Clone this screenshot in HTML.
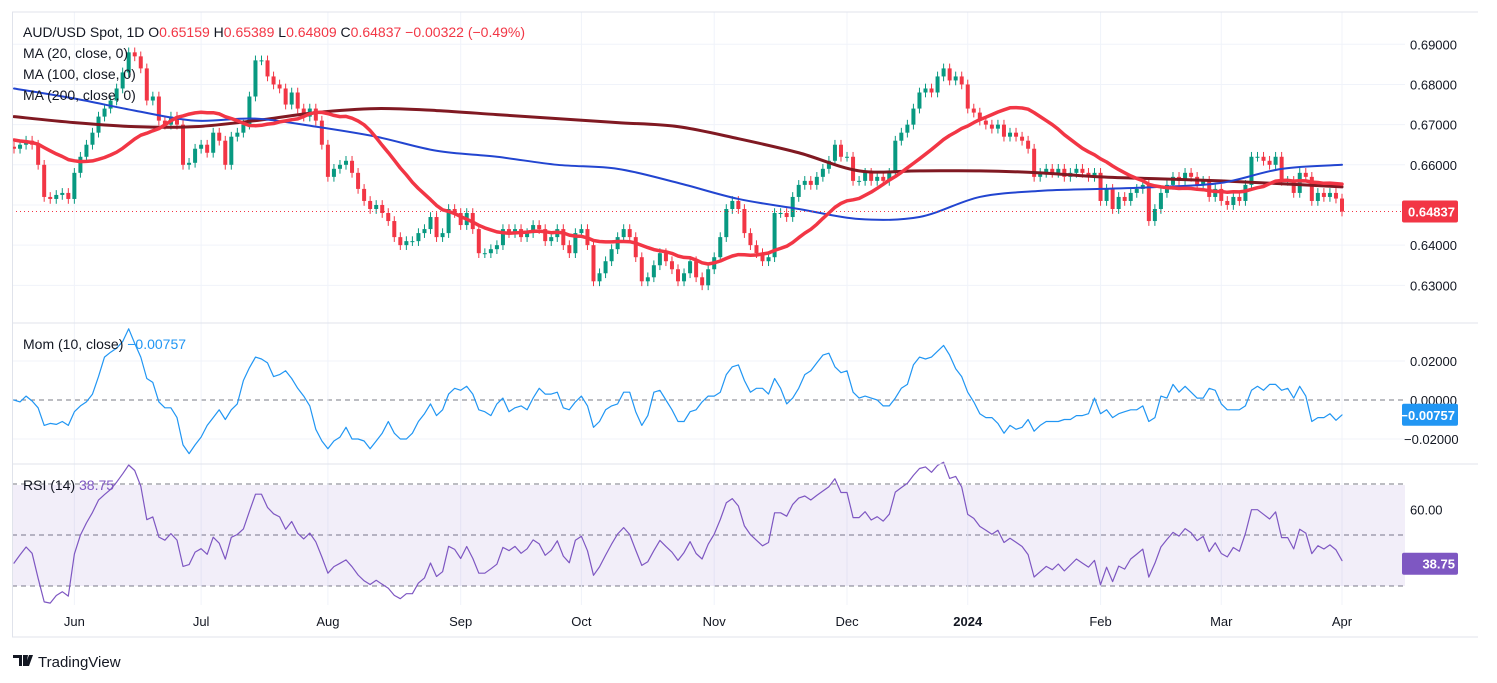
<!DOCTYPE html>
<html><head><meta charset="utf-8"><style>
html,body{margin:0;padding:0;background:#fff;}
svg{display:block;font-family:"Liberation Sans",sans-serif;}
</style></head><body>
<svg id="chart" width="1497" height="683" viewBox="0 0 1497 683">
<rect x="0" y="0" width="1497" height="683" fill="#fff"/>
<g id="grid"></g>
<rect x="12" y="485" width="1393" height="101" fill="#7e57c2" fill-opacity="0.1"/>
<g id="marks"></g>
<g id="labels"></g>
<line x1="12" y1="12" x2="1478" y2="12" stroke="#e0e3eb"/>
<line x1="12.5" y1="12" x2="12.5" y2="637" stroke="#e0e3eb"/>
<line x1="12" y1="637" x2="1478" y2="637" stroke="#e0e3eb"/>
<line x1="12" y1="323" x2="1478" y2="323" stroke="#e0e3eb"/>
<line x1="12" y1="464" x2="1478" y2="464" stroke="#e0e3eb"/>
<g font-size="14" fill="#131722">
<text x="23" y="37">AUD/USD Spot, 1D  <tspan>O</tspan><tspan fill="#f23645">0.65159</tspan>  H<tspan fill="#f23645">0.65389</tspan>  L<tspan fill="#f23645">0.64809</tspan>  C<tspan fill="#f23645">0.64837  −0.00322 (−0.49%)</tspan></text>
<text x="23" y="58">MA (20, close, 0)</text>
<text x="23" y="79">MA (100, close, 0)</text>
<text x="23" y="100">MA (200, close, 0)</text>
<text x="23" y="349">Mom (10, close) <tspan fill="#2196f3">−0.00757</tspan></text>
<text x="23" y="490">RSI (14) <tspan fill="#7e57c2">38.75</tspan></text>
</g>
<g>
<path d="M13 655h9v11h-3v-8h-6z M23 655h5l-2 11h-3z M29 655h4l-4 11h-4z" fill="#131722"/>
<text x="38" y="667" font-size="15" fill="#131722">TradingView</text>
</g>
</svg>
<script>
const priorCloses=[0.6700,0.6690,0.6700,0.6680,0.6690,0.6670,0.6680,0.6660,0.6670,0.6640,0.6660,0.6640,0.6655,0.6640,0.6650,0.6635,0.6650,0.6640,0.6645];
const closes=[
0.6640,0.6650,0.6660,0.6650,0.6600,0.6520,0.6515,0.6525,0.6530,0.6515,
0.6580,0.6620,0.6650,0.6680,0.6720,0.6740,0.6760,0.6790,0.6830,0.6880,0.6870,0.6840,0.6760,0.6770,0.6710,0.6700,0.6720,0.6700,0.6600,0.6605,0.6640,
0.6650,0.6630,0.6680,0.6660,0.6600,0.6670,0.6680,0.6700,0.6770,0.6860,0.6860,0.6820,0.6800,0.6790,0.6750,0.6780,0.6740,0.6720,0.6740,0.6710,0.6650,
0.6570,0.6590,0.6600,0.6610,0.6580,0.6540,0.6510,0.6490,0.6500,0.6480,0.6460,0.6420,0.6400,0.6410,0.6410,0.6430,0.6440,0.6470,0.6420,0.6430,0.6490,0.6480,
0.6450,0.6480,0.6440,0.6380,0.6380,0.6390,0.6400,0.6440,0.6430,0.6440,0.6420,0.6430,0.6450,0.6440,0.6410,0.6420,0.6440,0.6400,0.6380,0.6430,
0.6440,0.6400,0.6310,0.6330,0.6360,0.6390,0.6420,0.6440,0.6420,0.6370,0.6310,0.6320,0.6350,0.6380,0.6360,0.6340,0.6310,0.6330,0.6360,0.6320,0.6300,0.6340,
0.6370,0.6420,0.6490,0.6510,0.6490,0.6430,0.6400,0.6380,0.6360,0.6370,0.6480,0.6480,0.6470,0.6520,0.6550,0.6560,0.6550,0.6570,0.6590,0.6610,0.6650,0.6620,
0.6620,0.6560,0.6560,0.6580,0.6560,0.6570,0.6560,0.6580,0.6660,0.6680,0.6700,0.6740,0.6780,0.6790,0.6780,0.6820,0.6840,0.6810,0.6820,0.6800,
0.6740,0.6730,0.6710,0.6700,0.6690,0.6700,0.6670,0.6680,0.6670,0.6660,0.6640,0.6570,0.6580,0.6590,0.6580,0.6590,0.6570,0.6580,0.6590,0.6580,0.6570,0.6580,
0.6510,0.6540,0.6490,0.6520,0.6510,0.6530,0.6540,0.6550,0.6460,0.6490,0.6530,0.6550,0.6570,0.6560,0.6580,0.6570,0.6550,0.6560,0.6520,0.6540,
0.6510,0.6500,0.6520,0.6510,0.6550,0.6620,0.6620,0.6610,0.6600,0.6620,0.6560,0.6560,0.6530,0.6580,0.6570,0.6510,0.6530,0.6520,0.6530,0.6516,
0.64837];
const ma100Samples=[0.6790,0.6765,0.6735,0.6710,0.6715,0.6695,0.6670,0.6635,0.6620,0.6600,0.6590,0.6555,0.6515,0.6490,0.6465,0.6470,0.6520,0.6535,0.6540,0.6545,0.6555,0.6590,0.6600];
const ma200Samples=[0.6720,0.6705,0.6695,0.6695,0.6710,0.6730,0.6740,0.6735,0.6725,0.6715,0.6705,0.6695,0.6665,0.6630,0.6585,0.6585,0.6585,0.6580,0.6570,0.6565,0.6560,0.6553,0.6545];
const priceTicks=[0.69,0.68,0.67,0.66,0.65,0.64,0.63];
const momTicks=[0.02,0,-0.02];
const rsiTicks=[60];
const monthLabels=["Jun","Jul","Aug","Sep","Oct","Nov","Dec","2024","Feb","Mar","Apr"];
const monthBars=[10,31,52,74,94,116,138,158,180,200,220];

const NS="http://www.w3.org/2000/svg";
const N=closes.length;
const X0=14,X1=1342;
const xAt=i=>X0+(X1-X0)*i/(N-1);
const yP=p=>44.3+(0.69-p)*4017;
const yM=m=>400-m*1950;
const yR=r=>535-(r-50)*2.55;
const marks=document.getElementById('marks'),labels=document.getElementById('labels'),grid=document.getElementById('grid');
function mk(tag,attrs,parent){const e=document.createElementNS(NS,tag);for(const k in attrs)e.setAttribute(k,attrs[k]);parent.appendChild(e);return e;}

priceTicks.forEach(t=>{const l=mk('line',{x1:12,x2:1405,y1:yP(t),y2:yP(t),stroke:'#f0f3fa'},grid);


if(Math.abs(t-0.65)>1e-9){const tx=mk('text',{x:1410,y:yP(t)+5,'font-size':13,fill:'#131722'},labels);tx.textContent=t.toFixed(5);

}});
momTicks.forEach(t=>{const l=mk('line',{x1:12,x2:1405,y1:yM(t),y2:yM(t),stroke:t===0?'#787b86':'#f0f3fa','stroke-dasharray':t===0?'5,4':''},grid);


const tx=mk('text',{x:t<0?1404:1410,y:yM(t)+5,'font-size':13,fill:'#131722'},labels);tx.textContent=(t<0?'−':'')+Math.abs(t).toFixed(5);

});
[70,50,30].forEach(t=>{const l=mk('line',{x1:12,x2:1405,y1:yR(t),y2:yR(t),stroke:'#787b86','stroke-dasharray':'5,4'},grid);

});
rsiTicks.forEach(t=>{const tx=mk('text',{x:1410,y:yR(t)+5,'font-size':13,fill:'#131722'},labels);tx.textContent=t.toFixed(2);

});
monthLabels.forEach((m,k)=>{const x=xAt(monthBars[k]);
const l=mk('line',{x1:x,x2:x,y1:12,y2:605,stroke:'#f0f3fa'},grid);


const tx=mk('text',{x:x,y:626,'font-size':13,fill:'#131722','text-anchor':'middle','font-weight':m==='2024'?'bold':'normal'},labels);tx.textContent=m;

});

const all=priorCloses.concat(closes);const P=priorCloses.length;
for(let i=0;i<N;i++){const c=closes[i],o=all[P+i-1];const up=c>=o;const col=up?'#089981':'#f23645';
const hi=Math.max(o,c)+0.0012,lo=Math.min(o,c)-0.0012;const x=xAt(i);
const w=mk('line',{x1:x,x2:x,y1:yP(hi),y2:yP(lo),stroke:col,'stroke-width':1},marks);


const y1=yP(Math.max(o,c)),y2=yP(Math.min(o,c));
const b=mk('rect',{x:x-2,y:y1,width:4,height:Math.max(1,y2-y1),fill:col},marks);

}

function poly(pts,col,w,name){const p=mk('polyline',{points:pts.map(a=>a[0].toFixed(1)+','+a[1].toFixed(1)).join(' '),fill:'none',stroke:col,'stroke-width':w,'stroke-linejoin':'round','stroke-linecap':'round'},marks);

return p;}
function smooth(pts,col,w,name){let d='M'+pts[0][0]+','+pts[0][1];
for(let i=0;i<pts.length-1;i++){const p0=pts[Math.max(0,i-1)],p1=pts[i],p2=pts[i+1],p3=pts[Math.min(pts.length-1,i+2)];
const c1=[p1[0]+(p2[0]-p0[0])/6,p1[1]+(p2[1]-p0[1])/6],c2=[p2[0]-(p3[0]-p1[0])/6,p2[1]-(p3[1]-p1[1])/6];
d+=' C'+c1.join(',')+' '+c2.join(',')+' '+p2.join(',');}
const p=mk('path',{d:d,fill:'none',stroke:col,'stroke-width':w,'stroke-linecap':'round'},marks);

}
const sampleX=k=>xAt(Math.min(N-1,k*10));
smooth(ma200Samples.map((v,k)=>[sampleX(k),yP(v)]),'#801922',3,'ma200-line');
smooth(ma100Samples.map((v,k)=>[sampleX(k),yP(v)]),'#2245d0',2,'ma100-line');
const ma20=[];for(let i=0;i<N;i++){let s=0,n=0;for(let j=P+i-19;j<=P+i;j++){if(j>=0){s+=all[j];n++;}}ma20.push(s/n);}
poly(ma20.map((v,i)=>[xAt(i),yP(v)]),'#f23645',3.5,'ma20-line');

const mom=closes.map((c,i)=>c-all[P+i-10]);
poly(mom.map((v,i)=>[xAt(i),yM(v)]),'#2196f3',1.2,'momentum-line');
let ag=0,al=0;const rsi=[];
for(let j=1;j<all.length;j++){const d=all[j]-all[j-1];const g=Math.max(d,0),l=Math.max(-d,0);
if(j<=14){ag+=g/14;al+=l/14;}else{ag=(ag*13+g)/14;al=(al*13+l)/14;}
if(j>=P)rsi.push(al===0?100:100-100/(1+ag/al));}
poly(rsi.map((v,i)=>[xAt(i),yR(v)]),'#7e57c2',1.2,'rsi-line');

const lc=closes[N-1];
const dl=mk('line',{x1:12,x2:1405,y1:yP(lc),y2:yP(lc),stroke:'#f23645','stroke-dasharray':'1,3'},marks);


function tag(y,txt,col,name){const r=mk('rect',{x:1402,y:y-11,width:56,height:22,fill:col,rx:2},labels);


const t=mk('text',{x:1455,y:y+5,'font-size':13,fill:'#fff','text-anchor':'end','font-weight':'bold'},labels);t.textContent=txt;

}
tag(yP(lc),lc.toFixed(5),'#f23645','last-price-label');
tag(yM(-0.00757),'−0.00757','#2196f3','mom-value-label');
tag(yR(38.75),'38.75','#7e57c2','rsi-value-label');
</script>
</body></html>
